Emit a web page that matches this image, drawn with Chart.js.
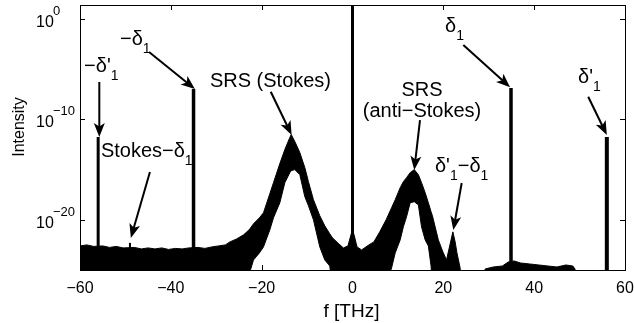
<!DOCTYPE html>
<html><head><meta charset="utf-8">
<script src="https://cdn.jsdelivr.net/npm/chart.js@4.4.0/dist/chart.umd.min.js"></script>
<style>html,body{margin:0;padding:0;background:#fff;}#wrap{width:634px;height:323px;}</style>
</head><body><div id="wrap"><canvas id="c" width="634" height="323"></canvas></div>
<script>
// ---- data ----
const xTicks = [-60, -40, -20, 0, 20, 40, 60];
const yTickExp = [0, -10, -20];
const xTitle = 'f [THz]';
const yTitle = 'Intensity';

// spectrum envelope: frequency [THz], log10 of upper and lower edge of the noisy trace
const freq = [-60,-58.5,-57,-55,-53.5,-52,-50.5,-48,-46.5,-45,
  -43.5,-42,-40.5,-39,-37.5,-36,-34,-32.5,-31,-29.5,
  -28,-27,-25.5,-24,-23,-22.6,-21.8,-20.5,-19.6,-18.2,
  -17.4,-16,-14.9,-13.8,-13.5,-12.7,-11.6,-10.5,-9.7,-8.6,
  -7.2,-6.1,-5,-4.4,-3,-2,-1,-0.4,0,0.4,
  1,2,3.6,4.7,6,7.4,8.3,8.6,9.4,10.5,
  11.2,11.9,12.7,13.6,14.5,15.2,16,16.7,17.3,17.6,
  18.9,19.9,20.7,21.3,22.1,22.6,23,23.7,24,29,
  29.2,31,33,34.3,35.6,37,39,41,43,45,
  47,48.5,49,49.3,60];
const upperLog10 = [-22.6,-22.5,-22.65,-22.6,-22.75,-22.65,-22.8,-22.75,-22.9,-22.8,
  -22.9,-22.8,-22.95,-22.85,-22.9,-22.8,-22.75,-22.85,-22.7,-22.6,
  -22.5,-22.2,-21.9,-21.5,-21.1,-20.9,-20.4,-19.8,-19.3,-17.4,
  -16.3,-14.4,-13,-11.8,-11.5,-12.2,-13.3,-14.8,-16.2,-18,
  -19.6,-20.6,-21.4,-21.8,-22.4,-22.8,-22.6,-21.6,-21,-21.6,
  -22.7,-23,-22.5,-22.2,-21.2,-20,-19.1,-18.8,-18,-16.8,
  -16.2,-15.8,-15.3,-15,-15.5,-16.3,-17.3,-18.3,-19.2,-19.6,
  -22,-23.2,-24,-22.8,-21.2,-22.2,-23.3,-24.8,-27,-27,
  -24.9,-24.7,-24.6,-24.2,-24.1,-24.3,-24.4,-24.5,-24.6,-24.7,
  -24.5,-24.6,-24.9,-27,-27];
const lowerLog10 = [-27,-27,-27,-27,-27,-27,-27,-27,-27,-27,
  -27,-27,-27,-27,-27,-27,-27,-27,-27,-27,
  -27,-27,-27,-27,-27,-25.2,-24,-23.3,-22.7,-21,
  -19.8,-18.3,-16.3,-15.3,-15.1,-15,-15.5,-17.7,-18.6,-20,
  -22.7,-24,-24.6,-27,-27,-27,-27,-27,-27,-27,
  -27,-27,-27,-27,-27,-27,-25.2,-24.8,-23.3,-22,
  -20.7,-19.7,-18.3,-18.2,-18.5,-20.7,-22,-22.6,-24.6,-27,
  -27,-27,-27,-27,-27,-27,-27,-27,-27,-27,
  -27,-27,-27,-27,-27,-27,-27,-27,-27,-27,
  -27,-27,-27,-27,-27];

// narrow spectral lines
const spikeFreq  = [-56, -49, -35, 0, 34.9, 56];
const spikeLog10 = [-11.75, -22.3, -6.97, 3, -6.87, -11.75];
const spikeBaseLog10 = -27;

// annotations: text parts ([text, isSubscript]), anchor in data units, arrow in data units
const annotations = [
  {parts:[['\u2212\u03b4\'',0],['1',1]], f:-59.1, lg:-5.27, align:'left', arrow:[-55.75,-6.27,-55.75,-11.75]},
  {parts:[['\u2212\u03b4',0],['1',1]], f:-51.2, lg:-2.58, align:'left', arrow:[-44.8,-3.28,-34.7,-6.97]},
  {parts:[['Stokes\u2212\u03b4',0],['1',1]], f:-55.4, lg:-13.74, align:'left', arrow:[-44.6,-15.24,-48.8,-21.8]},
  {parts:[['SRS (Stokes)',0]], f:-31.4, lg:-6.74, align:'left', arrow:[-18.0,-7.24,-13.4,-11.55]},
  {parts:[['SRS',0]], f:15.3, lg:-7.67, align:'center', arrow:null},
  {parts:[['(anti\u2212Stokes)',0]], f:15.3, lg:-9.76, align:'center', arrow:[14.86,-10.06,13.6,-15.04]},
  {parts:[['\u03b4\'',0],['1',1],['\u2212\u03b4',0],['1',1]], f:18.16, lg:-15.21, align:'left', arrow:[24.04,-16.33,22.2,-21.02]},
  {parts:[['\u03b4',0],['1',1]], f:20.37, lg:-1.29, align:'left', arrow:[24.4,-2.59,34.7,-6.8]},
  {parts:[['\u03b4\'',0],['1',1]], f:49.67, lg:-6.40, align:'left', arrow:[51.9,-7.74,56.0,-11.55]}
];

// ---- styles ----
const FONT = '"Liberation Sans", Arial, Helvetica, sans-serif';
const spikeWidth = [3, 2, 3.5, 3, 3.5, 4];

function richWidth(ctx, parts){
  let w = 0;
  parts.forEach(([t, s]) => { ctx.font = (s ? '14px ' : '20px ') + FONT; w += ctx.measureText(t).width; });
  return w;
}
function drawArrow(ctx, x1, y1, x2, y2){
  const ang = Math.atan2(y2 - y1, x2 - x1), L = 14, W = 5.5;
  const c = Math.cos(ang), s = Math.sin(ang);
  const bx = x2 - L * c, by = y2 - L * s;
  ctx.lineWidth = 2;
  ctx.beginPath(); ctx.moveTo(x1, y1); ctx.lineTo(x2 - 10 * c, y2 - 10 * s); ctx.stroke();
  ctx.beginPath();
  ctx.moveTo(x2, y2);
  ctx.lineTo(bx - W * s, by + W * c);
  ctx.lineTo(x2 - 0.75 * L * c, y2 - 0.75 * L * s);
  ctx.lineTo(bx + W * s, by - W * c);
  ctx.closePath(); ctx.fill();
}

const overlay = {
  id: 'overlay',
  afterDatasetsDraw(chart){
    const {ctx, chartArea: a, scales: {x, y}} = chart;
    ctx.save();
    ctx.strokeStyle = '#000'; ctx.fillStyle = '#000'; ctx.lineWidth = 1;
    ctx.strokeRect(Math.round(a.left) + 0.5, Math.round(a.top) + 0.5, Math.round(a.right - a.left), Math.round(a.bottom - a.top));
    ctx.beginPath();
    xTicks.forEach(v => {
      const p = Math.round(x.getPixelForValue(v)) + 0.5;
      ctx.moveTo(p, a.bottom); ctx.lineTo(p, a.bottom - 5);
      ctx.moveTo(p, a.top); ctx.lineTo(p, a.top + 5);
    });
    yTickExp.forEach(e => {
      const p = Math.round(y.getPixelForValue(Math.pow(10, e))) + 0.5;
      ctx.moveTo(a.left, p); ctx.lineTo(a.left + 5, p);
      ctx.moveTo(a.right, p); ctx.lineTo(a.right - 5, p);
    });
    ctx.stroke();
    // x tick labels
    ctx.font = '16px ' + FONT; ctx.textAlign = 'center'; ctx.textBaseline = 'alphabetic';
    xTicks.forEach(v => ctx.fillText(String(v).replace('-', '\u2212'), x.getPixelForValue(v), a.bottom + 23));
    // y tick labels 10^e
    yTickExp.forEach(e => {
      const p = y.getPixelForValue(Math.pow(10, e));
      ctx.textAlign = 'left';
      ctx.font = '16px ' + FONT; ctx.fillText('10', a.left - 44, p + 7.7);
      ctx.font = '13px ' + FONT; ctx.fillText(String(e).replace('-', '\u2212'), a.left - 27, p - 4);
    });
    // axis titles
    ctx.font = '19px ' + FONT; ctx.textAlign = 'center';
    ctx.fillText(xTitle, (a.left + a.right) / 2 - 1, a.bottom + 46.5);
    ctx.save();
    ctx.translate(20, 127); ctx.rotate(-Math.PI / 2);
    ctx.font = '16px ' + FONT; ctx.textBaseline = 'middle';
    ctx.fillText(yTitle, 0, 0);
    ctx.restore();
    // annotations
    annotations.forEach(an => {
      const ax = x.getPixelForValue(an.f), ay = y.getPixelForValue(Math.pow(10, an.lg));
      let cx = an.align === 'center' ? ax - richWidth(ctx, an.parts) / 2 : ax;
      ctx.textAlign = 'left'; ctx.textBaseline = 'alphabetic';
      an.parts.forEach(([t, s]) => {
        ctx.font = (s ? '14px ' : '20px ') + FONT;
        ctx.fillText(t, cx, s ? ay + 8 : ay);
        cx += ctx.measureText(t).width;
      });
      if (an.arrow) {
        const [f1, l1, f2, l2] = an.arrow;
        drawArrow(ctx, x.getPixelForValue(f1), y.getPixelForValue(Math.pow(10, l1)),
                       x.getPixelForValue(f2), y.getPixelForValue(Math.pow(10, l2)));
      }
    });
    ctx.restore();
  }
};

const upperPts = freq.map((f, i) => ({x: f, y: Math.pow(10, upperLog10[i])}));
const lowerPts = freq.map((f, i) => ({x: f, y: Math.pow(10, lowerLog10[i])}));
const datasets = [
  {data: upperPts, showLine: true, borderColor: '#000', backgroundColor: '#000', borderWidth: 1, pointRadius: 0, fill: '+1', tension: 0, clip: 0},
  {data: lowerPts, showLine: true, borderColor: '#000', backgroundColor: '#000', borderWidth: 1, pointRadius: 0, fill: false, tension: 0, clip: 0}
];
spikeFreq.forEach((f, i) => datasets.push({
  data: [{x: f, y: Math.pow(10, spikeBaseLog10)}, {x: f, y: Math.pow(10, spikeLog10[i])}],
  showLine: true, borderColor: '#000', borderWidth: spikeWidth[i], pointRadius: 0, fill: false, borderCapStyle: 'butt', clip: 0
}));

new Chart(document.getElementById('c'), {
  type: 'scatter',
  data: {datasets},
  options: {
    responsive: false, animation: false, devicePixelRatio: 1, events: [],
    layout: {padding: {left: 80, right: 9, top: 5, bottom: 53}},
    plugins: {legend: {display: false}, tooltip: {enabled: false}},
    scales: {
      x: {type: 'linear', min: -60, max: 60, display: false},
      y: {type: 'logarithmic', min: 1e-25, max: Math.pow(10, 1.4), display: false}
    }
  },
  plugins: [overlay]
});
</script></body></html>
